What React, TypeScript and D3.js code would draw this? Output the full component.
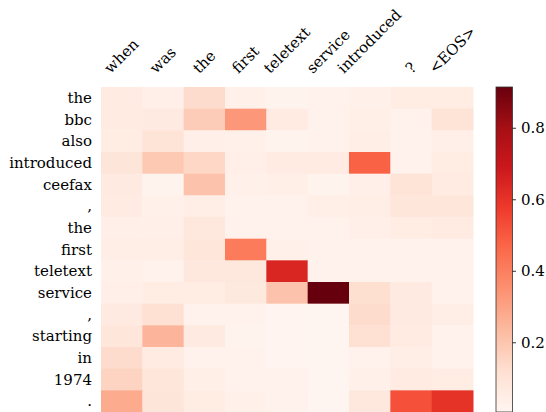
import React, { useEffect, useRef } from 'react';
import * as d3 from 'd3';

const xLabels = ['when', 'was', 'the', 'first', 'teletext', 'service', 'introduced', '?', '<EOS>'];
const yLabels = ['the', 'bbc', 'also', 'introduced', 'ceefax', ',', 'the', 'first', 'teletext', 'service', ',', 'starting', 'in', '1974', '.'];

const row00 = [0.06, 0.035, 0.13, 0.03, 0.015, 0.02, 0.03, 0.05, 0.055];
const row01 = [0.06, 0.065, 0.18, 0.33, 0.06, 0.02, 0.04, 0.025, 0.10];
const row02 = [0.05, 0.10, 0.035, 0.03, 0.015, 0.02, 0.045, 0.02, 0.035];
const row03 = [0.09, 0.19, 0.145, 0.035, 0.06, 0.06, 0.48, 0.025, 0.055];
const row04 = [0.065, 0.015, 0.21, 0.03, 0.04, 0.015, 0.035, 0.10, 0.06];
const row05 = [0.06, 0.03, 0.045, 0.025, 0.02, 0.04, 0.045, 0.085, 0.085];
const row06 = [0.035, 0.035, 0.075, 0.02, 0.02, 0.025, 0.035, 0.055, 0.06];
const row07 = [0.045, 0.045, 0.085, 0.41, 0.03, 0.02, 0.02, 0.02, 0.02];
const row08 = [0.03, 0.02, 0.075, 0.08, 0.64, 0.02, 0.02, 0.025, 0.025];
const row09 = [0.035, 0.05, 0.055, 0.07, 0.21, 0.914, 0.12, 0.065, 0.02];
const row10 = [0.065, 0.115, 0.025, 0.02, 0.01, 0.005, 0.13, 0.065, 0.045];
const row11 = [0.085, 0.25, 0.065, 0.015, 0.01, 0.005, 0.115, 0.06, 0.02];
const row12 = [0.13, 0.06, 0.02, 0.02, 0.01, 0.005, 0.025, 0.045, 0.02];
const row13 = [0.155, 0.085, 0.04, 0.025, 0.02, 0.005, 0.03, 0.06, 0.05];
const row14 = [0.277, 0.09, 0.05, 0.03, 0.025, 0.005, 0.075, 0.52, 0.60];
const values = [row00, row01, row02, row03, row04, row05, row06, row07, row08, row09, row10, row11, row12, row13, row14];

const colorTicks = [0.2, 0.4, 0.6, 0.8];
const redsStops = ['#fff5f0', '#fee0d2', '#fcbba1', '#fc9272', '#fb6a4a', '#ef3b2c', '#cb181d', '#a50f15', '#67000d'];

const W = 546;
const H = 412;
const FONT = 'DejaVu Serif';

export default function App() {
  const ref = useRef<SVGSVGElement>(null);

  useEffect(() => {
    const svg = d3.select(ref.current);
    svg.selectAll('*').remove();

    const left = 101, right = 473, top = 87, bottom = 412;
    const cbLeft = 496, cbRight = 512.5;

    const x = d3.scaleBand<number>().domain(d3.range(xLabels.length)).range([left, right]);
    const y = d3.scaleBand<number>().domain(d3.range(yLabels.length)).range([top, bottom]);

    const vmin = d3.min(values, r => d3.min(r)) as number;
    const vmax = d3.max(values, r => d3.max(r)) as number;
    const color = d3.scaleLinear<string>()
      .domain(redsStops.map((_, i) => vmin + (i / (redsStops.length - 1)) * (vmax - vmin)))
      .range(redsStops)
      .interpolate(d3.interpolateRgb)
      .clamp(true);

    const cells = values.flatMap((row, ri) => row.map((v, ci) => ({ ri, ci, v })));
    svg.append('g').selectAll('rect').data(cells).join('rect')
      .attr('x', d => x(d.ci)!)
      .attr('y', d => y(d.ri)!)
      .attr('width', x.bandwidth() + 0.5)
      .attr('height', y.bandwidth() + 0.5)
      .attr('fill', d => color(d.v));

    // row labels
    svg.append('g').selectAll('text').data(yLabels).join('text')
      .attr('x', left - 9)
      .attr('y', (_, i) => y(i)! + y.bandwidth() / 2)
      .attr('dy', '0.35em')
      .attr('text-anchor', 'end')
      .attr('font-family', FONT)
      .attr('font-size', 15)
      .attr('fill', '#000')
      .text(d => d);

    // column labels, rotated, bbox centered on column
    const colG = svg.append('g');
    const labelBottom = 77;
    xLabels.forEach((lab, i) => {
      const t = colG.append('text')
        .attr('font-family', FONT)
        .attr('font-size', 15)
        .attr('fill', '#000')
        .attr('text-anchor', 'start')
        .text(lab);
      const b = (t.node() as SVGTextElement).getBBox();
      const a = -b.y, d = b.y + b.height, w = b.width;
      const s = Math.SQRT1_2;
      const cx = x(i)! + x.bandwidth() / 2;
      const px = cx - s * (w + d - a) / 2;
      const py = labelBottom - s * d;
      t.attr('transform', `translate(${px},${py}) rotate(-45)`);
    });

    // colorbar
    const cy = d3.scaleLinear().domain([vmin, vmax]).range([bottom, top]);
    const defs = svg.append('defs');
    const grad = defs.append('linearGradient').attr('id', 'cbgrad')
      .attr('x1', 0).attr('y1', 1).attr('x2', 0).attr('y2', 0);
    redsStops.forEach((c, i) => {
      grad.append('stop').attr('offset', i / (redsStops.length - 1)).attr('stop-color', c);
    });
    svg.append('rect')
      .attr('x', cbLeft).attr('y', top)
      .attr('width', cbRight - cbLeft).attr('height', bottom - top)
      .attr('fill', 'url(#cbgrad)')
      .attr('stroke', '#333').attr('stroke-width', 0.8);

    const axis = d3.axisRight(cy).tickValues(colorTicks).tickSize(3.5).tickPadding(5).tickFormat(d3.format('.1f'));
    const ag = svg.append('g').attr('transform', `translate(${cbRight},0)`).call(axis);
    ag.select('.domain').remove();
    ag.selectAll('line').attr('stroke', '#000').attr('stroke-width', 0.8);
    ag.selectAll('text').attr('font-family', FONT).attr('font-size', 15).attr('fill', '#000');
  }, []);

  return (
    <svg ref={ref} width={W} height={H} style={{ position: 'absolute', left: 0, top: 0, background: '#fff' }} />
  );
}
